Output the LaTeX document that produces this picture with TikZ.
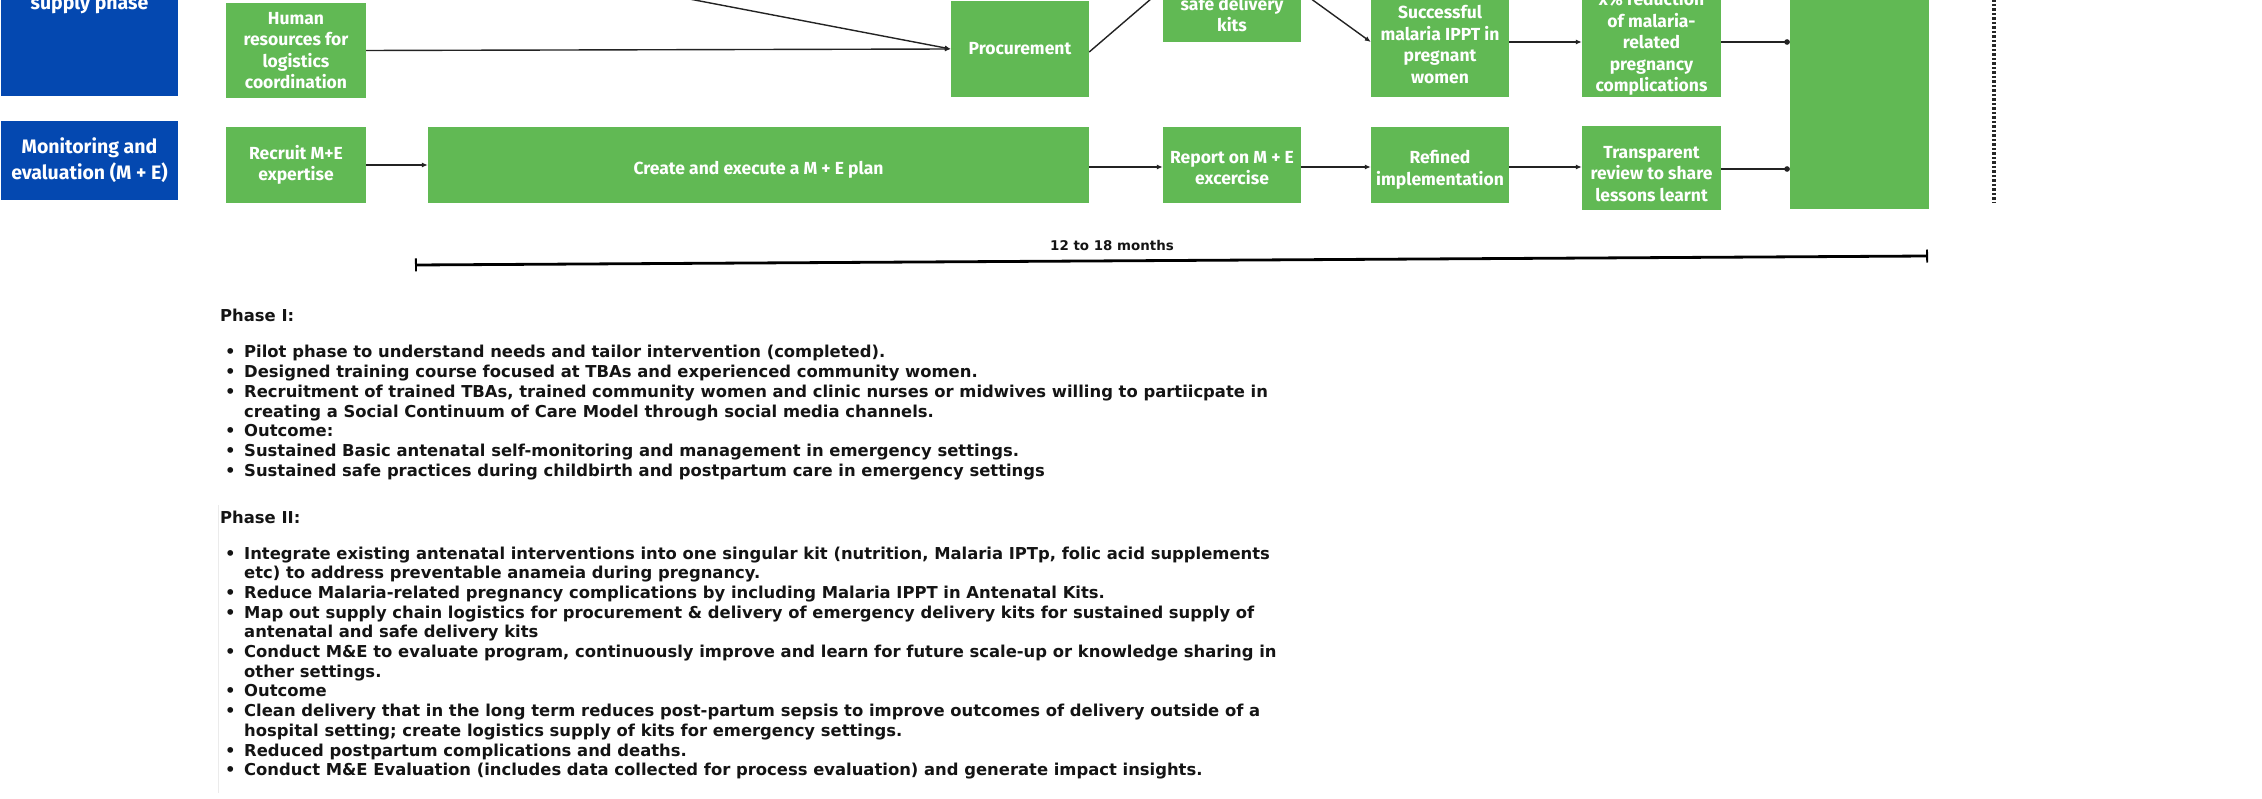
\documentclass[tikz,border=0pt]{standalone}
\usepackage{fontspec}
\setmainfont{DejaVu Sans}
\newfontfamily\boxfont{Fira Sans}
\usetikzlibrary{arrows.meta}
\definecolor{kgreen}{RGB}{97,185,84}
\definecolor{kblue}{RGB}{4,72,176}
\definecolor{ktext}{RGB}{20,20,20}
\definecolor{kline}{RGB}{35,35,35}
\newcommand{\bul}{\makebox[24pt][l]{\hspace*{5pt}\textbullet}}
\newcommand{\cont}{\hspace*{24pt}}
\tikzset{
  gbox/.style={fill=kgreen, draw=none, inner sep=0pt, text=white, align=center,
    font=\boxfont\bfseries\fontsize{17.5}{21.6}\selectfont},
  bbox/.style={fill=kblue, draw=none, inner sep=0pt, text=white, align=center,
    font=\boxfont\bfseries\fontsize{19.5}{26}\selectfont},
  gtext/.style={inner sep=0pt, text=white, align=center,
    font=\boxfont\bfseries\fontsize{17.5}{21.6}\selectfont},
  conn/.style={draw=kline, line width=1.4pt},
  arr/.style={conn, -{Latex[length=6pt,width=5pt]}},
  dotarr/.style={conn, -{Circle[length=5.5pt]}},
  bodytext/.style={inner sep=0pt, text=ktext, anchor=base west,
    font=\bfseries\fontsize{16.4}{19.7}\selectfont},
}
\begin{document}
\begin{tikzpicture}[x=1pt,y=-1pt]
\useasboundingbox[fill=white] (0,0) rectangle (2262,799);

% ---- row 1: supply phase ----
\node[bbox, minimum width=177pt, minimum height=126pt] (blue1) at (89.5,33) {};
\node[inner sep=0pt, text=white, anchor=base, font=\boxfont\bfseries\fontsize{19.5}{26}\selectfont] (suptx) at (89.5,10) {supply phase};
\node[gbox, minimum width=140pt, minimum height=95pt] (hr) at (296,50.5) {Human\\resources for\\logistics\\coordination};
\node[gbox, minimum width=138pt, minimum height=96pt] (proc) at (1020,49) {Procurement};
\node[gbox, minimum width=138pt, minimum height=56pt] (safe) at (1232,14) {safe delivery\\kits};
\node[gbox, minimum width=138pt, minimum height=105pt] (succ) at (1440,44.5) {Successful\\malaria IPPT in\\pregnant\\women};
\node[gbox, minimum width=139pt, minimum height=107pt] (xr) at (1651.5,43.5) {x\% reduction\\of malaria-\\related\\pregnancy\\complications};
\node[gbox, minimum width=139pt, minimum height=219pt] (big) at (1859.5,99.5) {};

% ---- row 2: monitoring and evaluation ----
\node[bbox, minimum width=177pt, minimum height=79pt] (blue2) at (89.5,160.5) {Monitoring and\\evaluation (M + E)};
\node[gbox, minimum width=140pt, minimum height=76pt] (rec) at (296,165) {Recruit M+E\\expertise};
\node[gbox, minimum width=661pt, minimum height=76pt] (cre) at (758.5,165) {};
\node[gtext] (cretx) at (758.5,169.5) {Create and execute a M + E plan};
\node[gbox, minimum width=138pt, minimum height=76pt] (rep) at (1232,165) {};
\node[gtext] (reptx) at (1232,168) {Report on M + E\\excercise};
\node[gbox, minimum width=138pt, minimum height=76pt] (ref) at (1440,165) {};
\node[gtext] (reftx) at (1440,170) {Refined\\implementation};
\node[gbox, minimum width=139pt, minimum height=84pt] (tra) at (1651.5,168) {};
\node[gtext] (tratx) at (1651.5,174) {Transparent\\review to share\\lessons learnt};

% ---- off-page ends ----
\coordinate (c1) at (590,-20);
\coordinate (c2) at (1173,-20);
\coordinate (c3) at (1285,-20);

% ---- connectors row 1 ----
\draw[arr] (hr.east) -- (proc.west);
\draw[arr] (c1) -- (proc.west);
\draw[conn] ([yshift=-3pt]proc.east) -- (c2);
\draw[arr] (c3) -- ([yshift=2.5pt]succ.west);
\draw[arr] ([yshift=2.5pt]succ.east) -- ([yshift=1.5pt]xr.west);
\draw[dotarr] ([yshift=1.5pt]xr.east) -- ([yshift=1.5pt]xr.east -| big.west);

% ---- connectors row 2 ----
\draw[arr] (rec.east) -- (cre.west);
\draw[arr] ([yshift=-2pt]cre.east) -- ([yshift=-2pt]rep.west);
\draw[arr] ([yshift=-2pt]rep.east) -- ([yshift=-2pt]ref.west);
\draw[arr] ([yshift=-2pt]ref.east) -- ([yshift=1pt]tra.west);
\draw[dotarr] ([yshift=-1pt]tra.east) -- ([yshift=-1pt]tra.east -| big.west);

% ---- dotted separator ----
\coordinate (dtop) at (1994,-5);
\coordinate (dbot) at (1994,203);
\draw[black!85, line width=3.2pt, dash pattern=on 2.4pt off 2.1pt] (dtop) -- (dbot);

% ---- timeline ----
\coordinate (tl) at (415,265);
\coordinate (tr) at (1928,256);
\draw[black, line width=2.8pt, {Bar[width=13pt,line width=1.8pt]}-{Bar[width=13pt,line width=1.8pt]}] (tl) -- (tr);
\node[inner sep=0pt, text=ktext, font=\bfseries\fontsize{13.4}{16}\selectfont] (tlab) at (1112,246) {12 to 18 months};

% ---- faint frame line ----
\coordinate (fa) at (218,505);
\coordinate (fb) at (218,793);
\draw[black!8, line width=1pt] (fa) -- (fb);

% ---- Phase I ----
\node[bodytext] (ph1) at (220,322) {%
\renewcommand{\arraystretch}{1}%
\begin{tabular}[t]{@{}l@{}}
Phase I:\\[16.3pt]
\bul Pilot phase to understand needs and tailor intervention (completed).\\
\bul Designed training course focused at TBAs and experienced community women.\\
\bul Recruitment of trained TBAs, trained community women and clinic nurses or midwives willing to partiicpate in\\
\cont creating a Social Continuum of Care Model through social media channels.\\
\bul Outcome:\\
\bul Sustained Basic antenatal self-monitoring and management in emergency settings.\\
\bul Sustained safe practices during childbirth and postpartum care in emergency settings
\end{tabular}};

% ---- Phase II ----
\node[bodytext] (ph2) at (220,523) {%
\renewcommand{\arraystretch}{1}%
\begin{tabular}[t]{@{}l@{}}
Phase II:\\[16.3pt]
\bul Integrate existing antenatal interventions into one singular kit (nutrition, Malaria IPTp, folic acid supplements\\
\cont etc) to address preventable anameia during pregnancy.\\
\bul Reduce Malaria-related pregnancy complications by including Malaria IPPT in Antenatal Kits.\\
\bul Map out supply chain logistics for procurement \& delivery of emergency delivery kits for sustained supply of\\
\cont antenatal and safe delivery kits\\
\bul Conduct M\&E to evaluate program, continuously improve and learn for future scale-up or knowledge sharing in\\
\cont other settings.\\
\bul Outcome\\
\bul Clean delivery that in the long term reduces post-partum sepsis to improve outcomes of delivery outside of a\\
\cont hospital setting; create logistics supply of kits for emergency settings.\\
\bul Reduced postpartum complications and deaths.\\
\bul Conduct M\&E Evaluation (includes data collected for process evaluation) and generate impact insights.
\end{tabular}};
\end{tikzpicture}
\end{document}
